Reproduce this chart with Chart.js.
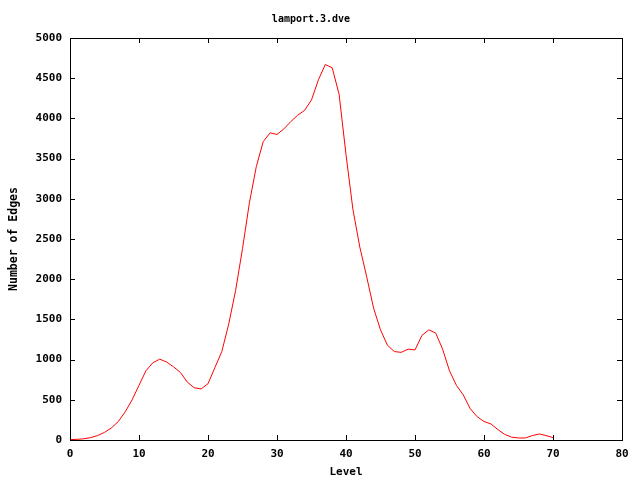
<!DOCTYPE html>
<html>
<head>
<meta charset="utf-8">
<script src="https://cdn.jsdelivr.net/npm/chart.js@4/dist/chart.umd.min.js"></script>
<style>
  html, body { margin: 0; padding: 0; background: #fff; }
</style>
</head>
<body>
<canvas id="chart" width="640" height="480"></canvas>
<script>
// level 0..70
var levels = [];
for (var i = 0; i <= 70; i++) levels.push(i);
var edges = [
  5, 8, 15, 30, 55, 95, 150, 230, 350, 500,
  680, 860, 960, 1005, 970, 910, 840, 720, 650, 635,
  700, 900, 1100, 1440, 1860, 2380, 2950, 3400, 3710, 3820,
  3800, 3870, 3960, 4040, 4100, 4230, 4480, 4670, 4630, 4300,
  3550, 2870, 2400, 2030, 1640, 1370, 1180, 1100, 1090, 1130,
  1120, 1300, 1370, 1330, 1130, 860, 680, 560, 390, 290,
  230, 200, 130, 70, 35, 25, 25, 55, 75, 55,
  30
];
var chartTitle = "lamport.3.dve";
var xTitle = "Level";
var yTitle = "Number of Edges";

var font = "'DejaVu Sans Mono', monospace";

// gnuplot style box with inward ticks on all four sides
var frame = {
  id: "frame",
  afterDraw: function(chart) {
    var ctx = chart.ctx, a = chart.chartArea;
    var xs = chart.scales.x, ys = chart.scales.y;
    var len = 5;
    ctx.save();
    ctx.strokeStyle = "#000";
    ctx.lineWidth = 1;
    ctx.strokeRect(a.left + 0.5, a.top + 0.5, a.right - a.left, a.bottom - a.top);
    ctx.beginPath();
    xs.ticks.forEach(function(t) {
      var px = Math.round(xs.getPixelForValue(t.value)) + 0.5;
      ctx.moveTo(px, a.bottom); ctx.lineTo(px, a.bottom - len);
      ctx.moveTo(px, a.top); ctx.lineTo(px, a.top + len);
    });
    ys.ticks.forEach(function(t) {
      var py = Math.round(ys.getPixelForValue(t.value)) + 0.5;
      ctx.moveTo(a.left, py); ctx.lineTo(a.left + len, py);
      ctx.moveTo(a.right, py); ctx.lineTo(a.right - len, py);
    });
    ctx.stroke();
    ctx.restore();
  }
};

new Chart(document.getElementById("chart"), {
  type: "line",
  data: {
    datasets: [{
      data: levels.map(function(l, i) { return { x: l, y: edges[i] }; }),
      borderColor: "#ff0000",
      borderWidth: 1,
      pointRadius: 0,
      tension: 0,
      fill: false
    }]
  },
  options: {
    responsive: false,
    animation: false,
    devicePixelRatio: 1,
    layout: { padding: { top: 0, right: 18, bottom: 0, left: 0 } },
    plugins: {
      legend: { display: false },
      tooltip: { enabled: false },
      title: {
        display: true,
        text: chartTitle,
        color: "#000",
        font: { family: font, size: 10, weight: "bold" },
        padding: { top: 13, bottom: 13 }
      }
    },
    scales: {
      x: {
        type: "linear",
        min: 0, max: 80,
        ticks: { stepSize: 10, color: "#000", padding: 8, maxRotation: 0,
                 font: { family: font, size: 11, weight: "bold" },
                 callback: function(v) { return String(v); } },
        grid: { display: false, drawTicks: false },
        border: { display: false },
        title: { display: true, text: xTitle, color: "#000",
                 font: { family: font, size: 11, weight: "bold" },
                 padding: { top: 0, bottom: 1 } },
        afterFit: function(s) { s.height = 40; }
      },
      y: {
        min: 0, max: 5000,
        ticks: { stepSize: 500, color: "#000", padding: 8,
                 font: { family: font, size: 11, weight: "bold" },
                 callback: function(v) { return String(v); } },
        grid: { display: false, drawTicks: false },
        border: { display: false },
        title: { display: true, text: yTitle, color: "#000",
                 font: { family: font, size: 11.5, weight: "bold" },
                 padding: { top: 7, bottom: 0 } },
        afterFit: function(s) { s.width = 70; }
      }
    }
  },
  plugins: [frame]
});
</script>
</body>
</html>
